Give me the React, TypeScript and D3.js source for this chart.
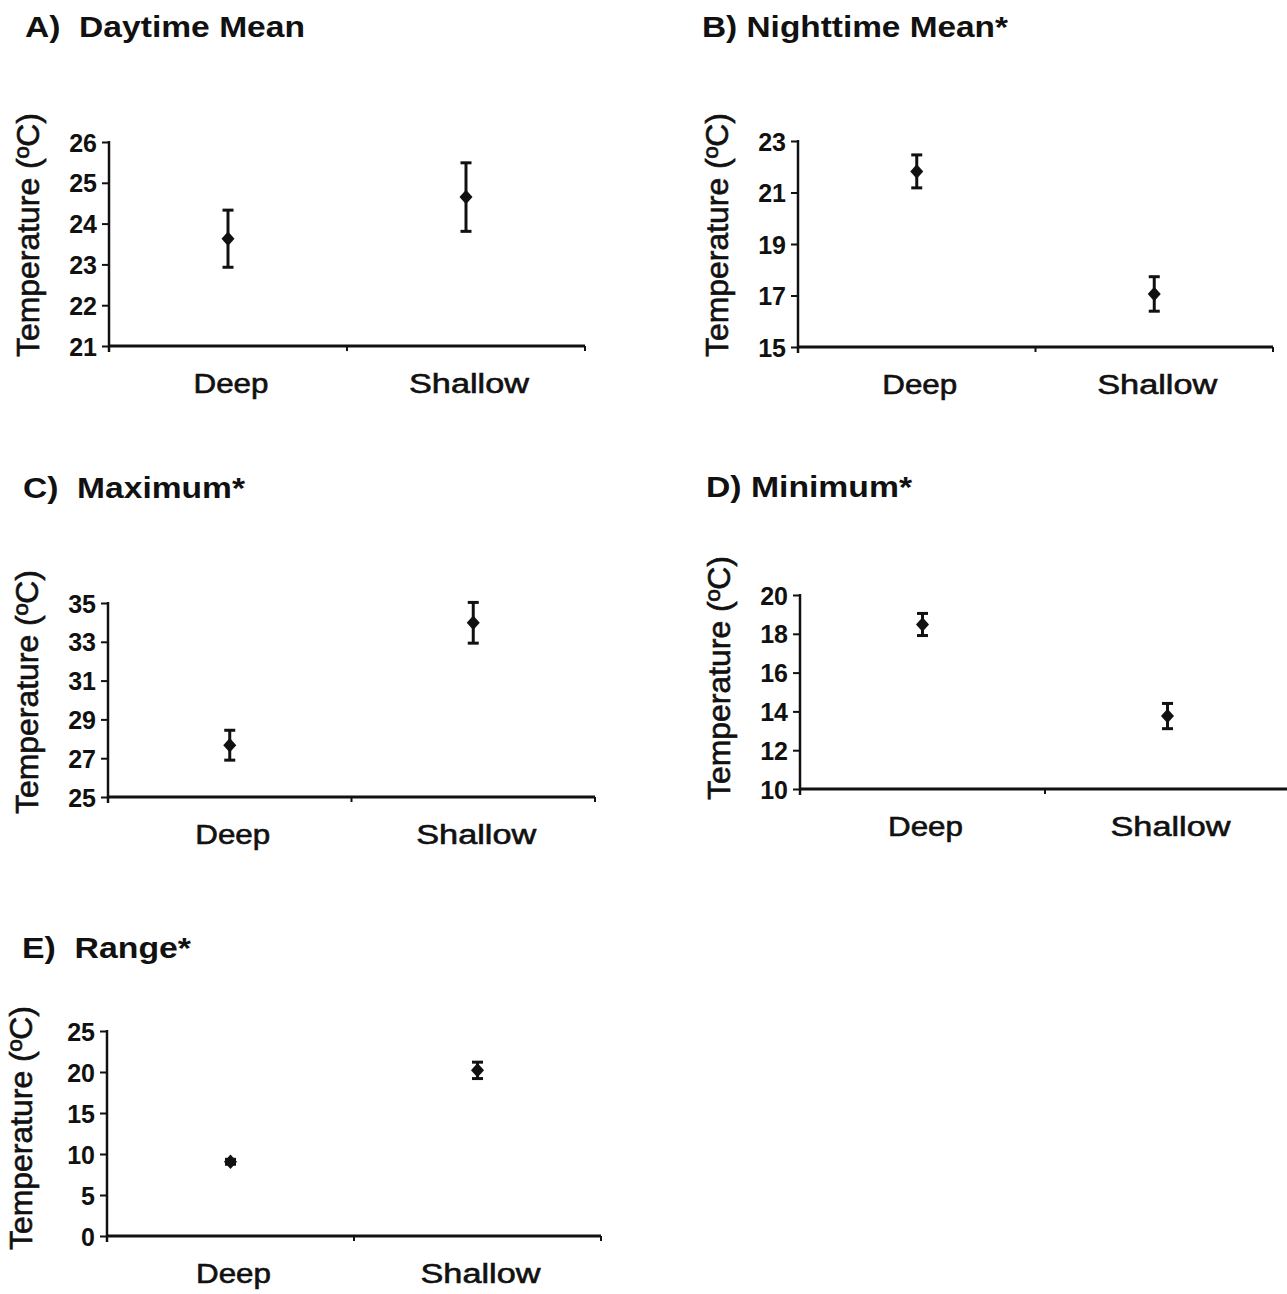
import React, { useEffect, useRef } from "react";
import * as d3 from "d3";

// ---- data ----
const panelTitles = ["A)  Daytime Mean", "B) Nighttime Mean*", "C)  Maximum*", "D) Minimum*", "E)  Range*"];
const categories = ["Deep", "Shallow"];
const deepMeans = [23.63, 21.82, 27.67, 18.48, 9.05];
const deepErrors = [0.7, 0.64, 0.77, 0.57, 0.3];
const shallowMeans = [24.65, 17.06, 33.98, 13.76, 20.2];
const shallowErrors = [0.84, 0.67, 1.05, 0.65, 1.0];
const yDomains = [[21, 26], [15, 23], [25, 35], [10, 20], [0, 25]];
const yTicksA = [21, 22, 23, 24, 25, 26];
const yTicksB = [15, 17, 19, 21, 23];
const yTicksC = [25, 27, 29, 31, 33, 35];
const yTicksD = [10, 12, 14, 16, 18, 20];
const yTicksE = [0, 5, 10, 15, 20, 25];
const yTicks = [yTicksA, yTicksB, yTicksC, yTicksD, yTicksE];
const yLabel = "Temperature (ºC)";

// ---- layout (pixels) ----
const layout = [
  { x0: 109, x1: 585, yTop: 142, yBot: 346, tx: 25, ty: 37, tw: 280, lx: 39, ly: 235 },
  { x0: 798, x1: 1273, yTop: 141, yBot: 347, tx: 702, ty: 37, tw: 306, lx: 728, ly: 235 },
  { x0: 108, x1: 595, yTop: 603, yBot: 797, tx: 23, ty: 498, tw: 222, lx: 38, ly: 692 },
  { x0: 800, x1: 1290, yTop: 595, yBot: 789, tx: 706, ty: 497, tw: 206, lx: 730, ly: 678 },
  { x0: 107, x1: 601, yTop: 1031, yBot: 1236, tx: 22, ty: 958, tw: 169, lx: 32, ly: 1128 },
];

const FONT = "'Liberation Sans', Arial, Helvetica, sans-serif";

const diamondType = {
  draw(ctx: any, size: number) {
    const h = Math.sqrt(size);
    const w = h * 0.9;
    ctx.moveTo(0, -h / 2);
    ctx.lineTo(w / 2, 0);
    ctx.lineTo(0, h / 2);
    ctx.lineTo(-w / 2, 0);
    ctx.closePath();
  },
};

export default function App() {
  const ref = useRef<SVGSVGElement | null>(null);

  useEffect(() => {
    const svg = d3.select(ref.current);
    svg.selectAll("*").remove();

    layout.forEach((L, i) => {
      const g = svg.append("g");
      const y = d3.scaleLinear().domain(yDomains[i]).range([L.yBot, L.yTop]);
      const x = d3.scaleBand().domain(categories).range([L.x0, L.x1]).paddingInner(0).paddingOuter(0);

      // title
      g.append("text")
        .attr("x", L.tx)
        .attr("y", L.ty)
        .attr("font-family", FONT)
        .attr("font-weight", "bold")
        .attr("font-size", 29)
        .attr("textLength", L.tw)
        .attr("lengthAdjust", "spacingAndGlyphs")
        .style("white-space", "pre")
        .attr("fill", "#111")
        .text(panelTitles[i]);

      // y axis
      const yAxis = d3
        .axisLeft(y)
        .tickValues(yTicks[i])
        .tickFormat(d3.format("d") as any)
        .tickSize(7)
        .tickSizeOuter(0)
        .tickPadding(5);
      const ya = g.append("g").attr("transform", `translate(${L.x0},0)`).call(yAxis);
      ya.select(".domain").remove();
      ya.selectAll(".tick line").attr("stroke", "#111").attr("stroke-width", 2);
      ya.selectAll(".tick text")
        .attr("font-family", FONT)
        .attr("font-weight", "bold")
        .attr("font-size", 25)
        .attr("fill", "#111")
        .attr("dy", "0.36em");
      g.append("line")
        .attr("x1", L.x0).attr("x2", L.x0)
        .attr("y1", L.yTop - 1).attr("y2", L.yBot + 6)
        .attr("stroke", "#111").attr("stroke-width", 2.5);

      // x axis
      g.append("line")
        .attr("x1", L.x0 - 1).attr("x2", L.x1)
        .attr("y1", L.yBot).attr("y2", L.yBot)
        .attr("stroke", "#111").attr("stroke-width", 2.8);
      const xTickPos = [L.x0, (L.x0 + L.x1) / 2, L.x1];
      g.selectAll(".xt").data(xTickPos).enter().append("line")
        .attr("x1", (d) => d).attr("x2", (d) => d)
        .attr("y1", L.yBot).attr("y2", L.yBot + 5)
        .attr("stroke", "#111").attr("stroke-width", 2);

      // category labels
      g.selectAll(".cat").data(categories).enter().append("text")
        .attr("x", (d) => (x(d) as number) + x.bandwidth() / 2 + 3)
        .attr("y", L.yBot + 47)
        .attr("text-anchor", "middle")
        .attr("font-family", FONT)
        .attr("font-size", 27)
        .attr("fill", "#111")
        .attr("stroke", "#111").attr("stroke-width", 0.6)
        .attr("textLength", (d) => (d === "Deep" ? 75 : 120))
        .attr("lengthAdjust", "spacingAndGlyphs")
        .text((d) => d);

      // y label
      g.append("text")
        .attr("transform", `translate(${L.lx},${L.ly}) rotate(-90)`)
        .attr("text-anchor", "middle")
        .attr("font-family", FONT)
        .attr("font-size", 31)
        .attr("fill", "#111")
        .attr("stroke", "#111").attr("stroke-width", 0.6)
        .attr("textLength", 244)
        .attr("lengthAdjust", "spacingAndGlyphs")
        .text(yLabel);

      // points
      const pts = [
        { c: categories[0], m: deepMeans[i], e: deepErrors[i] },
        { c: categories[1], m: shallowMeans[i], e: shallowErrors[i] },
      ];
      const cx = (c: string) => (x(c) as number) + x.bandwidth() / 2;
      pts.forEach((p) => {
        const px = cx(p.c);
        const yt = y(p.m + p.e);
        const yb = y(p.m - p.e);
        g.append("line").attr("x1", px).attr("x2", px).attr("y1", yt).attr("y2", yb)
          .attr("stroke", "#111").attr("stroke-width", 3);
        [yt, yb].forEach((yy) => {
          g.append("line").attr("x1", px - 5.5).attr("x2", px + 5.5).attr("y1", yy).attr("y2", yy)
            .attr("stroke", "#111").attr("stroke-width", 3);
        });
        g.append("path")
          .attr("d", d3.symbol().type(diamondType as any).size(210)())
          .attr("transform", `translate(${px},${y(p.m)})`)
          .attr("fill", "#111");
      });
    });
  }, []);

  return (
    <svg
      ref={ref}
      width={1287}
      height={1294}
      style={{ position: "absolute", left: 0, top: 0, background: "#fff" }}
    />
  );
}
